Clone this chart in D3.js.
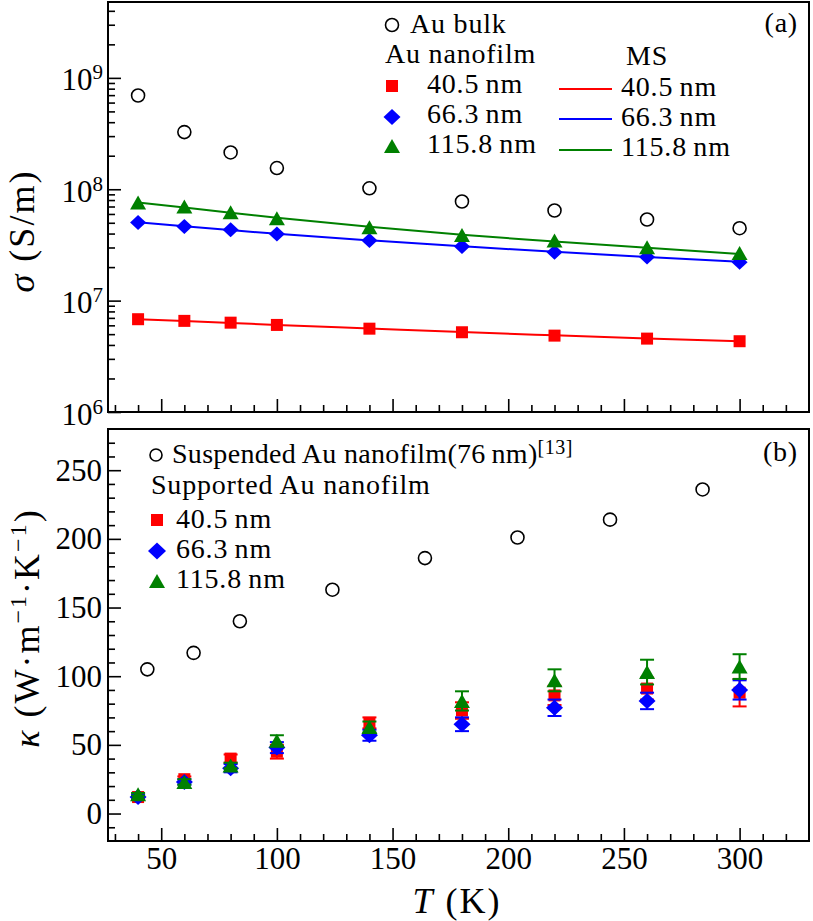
<!DOCTYPE html>
<html><head><meta charset="utf-8">
<script src="https://cdn.jsdelivr.net/npm/d3@7"></script>
<style>
body{margin:0;background:#fff}
svg{display:block}
</style>
</head><body>
<svg id="c" width="813" height="921"></svg>
<script>
// ---------- data ----------
const temps = [40, 60, 80, 100, 140, 180, 220, 260, 300];
// panel (a): electrical conductivity (S/m)
const sigmaBulk  = [6.95e8, 3.26e8, 2.14e8, 1.55e8, 1.02e8, 7.76e7, 6.44e7, 5.35e7, 4.47e7];
const sigma405   = [6.81e6, 6.58e6, 6.34e6, 6.05e6, 5.60e6, 5.20e6, 4.85e6, 4.56e6, 4.32e6];
const sigma663   = [5.02e7, 4.62e7, 4.32e7, 3.97e7, 3.46e7, 3.06e7, 2.72e7, 2.46e7, 2.21e7];
const sigma1158  = [7.60e7, 7.00e7, 6.20e7, 5.50e7, 4.56e7, 3.89e7, 3.46e7, 3.01e7, 2.67e7];
const ms405      = [6.80e6, 6.55e6, 6.30e6, 6.05e6, 5.62e6, 5.22e6, 4.88e6, 4.58e6, 4.32e6];
const ms663      = [5.05e7, 4.65e7, 4.30e7, 3.98e7, 3.48e7, 3.08e7, 2.74e7, 2.47e7, 2.23e7];
const ms1158     = [7.60e7, 6.85e7, 6.15e7, 5.55e7, 4.60e7, 3.90e7, 3.40e7, 2.98e7, 2.62e7];
// panel (b): thermal conductivity (W/m/K)
const suspT      = [44, 64, 84, 124, 164, 204, 244, 284];
const suspKappa  = [105, 117, 140, 163, 186, 201, 214, 236];
const kappa405   = [12, 25, 40, 45, 66, 75, 86, 91, 88];
const err405     = [1, 2, 3, 5, 4, 6, 7, 8, 10];
const kappa663   = [12, 23, 33, 48, 57, 65, 77, 82, 90];
const err663     = [2, 2, 3, 4, 4, 5, 6, 6, 7];
const kappa1158  = [14, 23, 35, 53, 63, 82, 97, 103, 107];
const err1158    = [1, 2, 2, 4, 4, 7, 8, 9, 9];
// tick values
const xMajor = [50, 100, 150, 200, 250, 300];
const xMinor = [30, 40, 60, 70, 80, 90, 110, 120, 130, 140, 160, 170, 180, 190, 210, 220, 230, 240, 260, 270, 280, 290, 310, 320];
const yAMajor = [1e6, 1e7, 1e8, 1e9];
const yBMajor = [0, 50, 100, 150, 200, 250];
const yBMinor = [-10, 10, 20, 30, 40, 60, 70, 80, 90, 110, 120, 130, 140, 160, 170, 180, 190, 210, 220, 230, 240, 260, 270];
const sizeLabels = ["40.5\u2009nm", "66.3\u2009nm", "115.8\u2009nm"];

// ---------- layout ----------
const FONT = "'Liberation Serif', 'Times New Roman', Times, Tinos, 'DejaVu Serif', 'Noto Serif', FreeSerif, serif";
const svg = d3.select("#c").style("font-family", FONT);
const L = 108, R = 809;
const topA = 2, botA = 412, topB = 429, botB = 841;
const RED = "#ff0000", BLUE = "#0000ff", GREEN = "#008000";

const x = d3.scaleLinear().domain([27, 330]).range([L, R]);
const yA = d3.scaleLog().domain([1e6, 4.8e9]).range([botA, topA]);
const yB = d3.scaleLinear().domain([-20, 280]).range([botB, topB]);

const yAMinor = [];
[1e6, 1e7, 1e8, 1e9].forEach(b => { for (let k = 2; k <= 9; k++) if (b * k <= 4.8e9) yAMinor.push(b * k); });

function styleAxis(g) {
  g.attr("font-family", null).style("font-family", FONT);
  g.select(".domain").remove();
  g.selectAll(".tick line").attr("stroke", "#000").attr("stroke-width", 1.6);
}
function txt(g) { return g.append("text").style("font-family", FONT).attr("fill", "#000"); }

// ---------- symbols ----------
function square(g, cx, cy, s, color) {
  g.append("rect").attr("x", cx - s / 2).attr("y", cy - s / 2).attr("width", s).attr("height", s).attr("fill", color);
}
function diamond(g, cx, cy, hw, hh, color) {
  g.append("path").attr("d", `M${cx},${cy - hh}L${cx + hw},${cy}L${cx},${cy + hh}L${cx - hw},${cy}Z`).attr("fill", color);
}
function triangle(g, cx, cy, w, h, color) {
  g.append("path").attr("d", `M${cx},${cy - h / 2}L${cx + w / 2},${cy + h / 2}L${cx - w / 2},${cy + h / 2}Z`).attr("fill", color);
}
function circle(g, cx, cy, r) {
  g.append("circle").attr("cx", cx).attr("cy", cy).attr("r", r).attr("fill", "none").attr("stroke", "#000").attr("stroke-width", 1.6);
}

// ================= PANEL (a) =================
const gA = svg.append("g");
gA.append("g").attr("transform", `translate(0,${botA})`)
  .call(d3.axisBottom(x).tickValues(xMajor).tickSize(-13).tickFormat(""))
  .call(styleAxis);
gA.append("g").attr("transform", `translate(0,${botA})`)
  .call(d3.axisBottom(x).tickValues(xMinor).tickSize(-7).tickFormat(""))
  .call(styleAxis);
const axA = gA.append("g").attr("transform", `translate(${L},0)`)
  .call(d3.axisLeft(yA).tickValues(yAMajor).tickSize(-13).tickFormat(d => d))
  .call(styleAxis);
axA.selectAll(".tick text").each(function (d) {
  const t = d3.select(this);
  t.text("").attr("x", -5).attr("dy", null).attr("y", 12).attr("text-anchor", "end")
    .attr("font-size", 31).style("font-family", FONT);
  t.append("tspan").text("10");
  t.append("tspan").attr("dy", -11).attr("font-size", 21).text(Math.round(Math.log10(d)));
});
gA.append("g").attr("transform", `translate(${L},0)`)
  .call(d3.axisLeft(yA).tickValues(yAMinor).tickSize(-7).tickFormat(""))
  .call(styleAxis);

// MS model lines
const lineA = d3.line().x((d, i) => x(temps[i])).y(d => yA(d)).curve(d3.curveMonotoneX);
[[ms405, RED], [ms663, BLUE], [ms1158, GREEN]].forEach(([arr, c]) => {
  gA.append("path").datum(arr).attr("d", lineA).attr("fill", "none").attr("stroke", c).attr("stroke-width", 2);
});
temps.forEach((t, i) => circle(gA, x(t), yA(sigmaBulk[i]), 6.5));
temps.forEach((t, i) => square(gA, x(t), yA(sigma405[i]), 12, RED));
temps.forEach((t, i) => diamond(gA, x(t), yA(sigma663[i]), 8, 7.5, BLUE));
temps.forEach((t, i) => triangle(gA, x(t), yA(sigma1158[i]), 16, 14, GREEN));

gA.append("rect").attr("x", L).attr("y", topA).attr("width", R - L).attr("height", botA - topA)
  .attr("fill", "none").attr("stroke", "#000").attr("stroke-width", 2);

// legend (a)
const legA = gA.append("g").attr("font-size", 28).attr("letter-spacing", 0.8);
circle(legA, 392, 25, 6.5);
txt(legA).attr("x", 410).attr("y", 33).text("Au bulk");
txt(legA).attr("x", 385).attr("y", 63).text("Au nanofilm");
square(legA, 392, 86, 12, RED);
diamond(legA, 392, 117, 8.5, 8, BLUE);
triangle(legA, 392, 146, 16, 14, GREEN);
sizeLabels.forEach((s, i) => txt(legA).attr("x", 427).attr("y", [93, 123, 153][i]).text(s));
txt(legA).attr("x", 626).attr("y", 65).text("MS");
[RED, BLUE, GREEN].forEach((c, i) => {
  const yy = [89, 119, 150][i];
  legA.append("line").attr("x1", 559).attr("x2", 612).attr("y1", yy).attr("y2", yy).attr("stroke", c).attr("stroke-width", 2);
  txt(legA).attr("x", 621).attr("y", [96, 126, 156][i]).text(sizeLabels[i]);
});
txt(legA).attr("x", 798).attr("y", 32).attr("text-anchor", "end").text("(a)");

// y title (a)
txt(svg).attr("transform", "translate(34,231) rotate(-90)").attr("text-anchor", "middle")
  .attr("font-size", 36).attr("letter-spacing", 2)
  .call(t => { t.append("tspan").attr("font-style", "italic").text("σ"); t.append("tspan").text(" (S/m)"); });

// ================= PANEL (b) =================
const gB = svg.append("g");
const axBx = gB.append("g").attr("transform", `translate(0,${botB})`)
  .call(d3.axisBottom(x).tickValues(xMajor).tickSize(-13).tickFormat(d3.format("d")))
  .call(styleAxis);
axBx.selectAll(".tick text").attr("y", 28).attr("dy", null).attr("font-size", 31).style("font-family", FONT);
gB.append("g").attr("transform", `translate(0,${botB})`)
  .call(d3.axisBottom(x).tickValues(xMinor).tickSize(-7).tickFormat(""))
  .call(styleAxis);
const axBy = gB.append("g").attr("transform", `translate(${L},0)`)
  .call(d3.axisLeft(yB).tickValues(yBMajor).tickSize(-13).tickFormat(d3.format("d")))
  .call(styleAxis);
axBy.selectAll(".tick text").attr("x", -6).attr("dy", null).attr("y", 10).attr("font-size", 31).style("font-family", FONT);
gB.append("g").attr("transform", `translate(${L},0)`)
  .call(d3.axisLeft(yB).tickValues(yBMinor).tickSize(-7).tickFormat(""))
  .call(styleAxis);

suspT.forEach((t, i) => circle(gB, x(t), yB(suspKappa[i]), 6.5));

function errbar(g, cx, v, e, color) {
  const y1 = yB(v - e), y2 = yB(v + e);
  g.append("line").attr("x1", cx).attr("x2", cx).attr("y1", y1).attr("y2", y2).attr("stroke", color).attr("stroke-width", 2);
  [y1, y2].forEach(yy => g.append("line").attr("x1", cx - 7).attr("x2", cx + 7).attr("y1", yy).attr("y2", yy).attr("stroke", color).attr("stroke-width", 2));
}
temps.forEach((t, i) => { square(gB, x(t), yB(kappa405[i]), 12, RED); errbar(gB, x(t), kappa405[i], err405[i], RED); });
temps.forEach((t, i) => { diamond(gB, x(t), yB(kappa663[i]), 8.5, 8, BLUE); errbar(gB, x(t), kappa663[i], err663[i], BLUE); });
temps.forEach((t, i) => { triangle(gB, x(t), yB(kappa1158[i]), 16, 14, GREEN); errbar(gB, x(t), kappa1158[i], err1158[i], GREEN); });

gB.append("rect").attr("x", L).attr("y", topB).attr("width", R - L).attr("height", botB - topB)
  .attr("fill", "none").attr("stroke", "#000").attr("stroke-width", 2);

// legend (b)
const legB = gB.append("g").attr("font-size", 28).attr("letter-spacing", 0.8);
circle(legB, 156, 455, 6);
txt(legB).attr("x", 172).attr("y", 463)
  .call(t => {
    t.append("tspan").attr("letter-spacing", 0.3).text("Suspended Au nanofilm(76\u2009nm)");
    t.append("tspan").attr("dy", -9).attr("font-size", 20).attr("letter-spacing", 0.5).text("[13]");
  });
txt(legB).attr("x", 151).attr("y", 494).text("Supported Au nanofilm");
square(legB, 157, 520, 12, RED);
diamond(legB, 157, 551, 9, 8.5, BLUE);
triangle(legB, 157, 581, 16, 14, GREEN);
sizeLabels.forEach((s, i) => txt(legB).attr("x", 176).attr("y", [528, 558, 588][i]).text(s));
txt(legB).attr("x", 798).attr("y", 461).attr("text-anchor", "end").text("(b)");

// y title (b)
txt(svg).attr("transform", "translate(39,628) rotate(-90)").attr("text-anchor", "middle")
  .attr("font-size", 36).attr("letter-spacing", 2)
  .call(t => {
    t.append("tspan").attr("font-style", "italic").text("κ");
    t.append("tspan").text(" (W·m");
    t.append("tspan").attr("dy", -13).attr("font-size", 24).text("−1");
    t.append("tspan").attr("dy", 13).text("·K");
    t.append("tspan").attr("dy", -13).attr("font-size", 24).text("−1");
    t.append("tspan").attr("dy", 13).text(")");
  });

// x title
txt(svg).attr("x", 457).attr("y", 913).attr("text-anchor", "middle")
  .attr("font-size", 36).attr("letter-spacing", 2)
  .call(t => { t.append("tspan").attr("font-style", "italic").text("T"); t.append("tspan").text(" (K)"); });
</script>
</body></html>
